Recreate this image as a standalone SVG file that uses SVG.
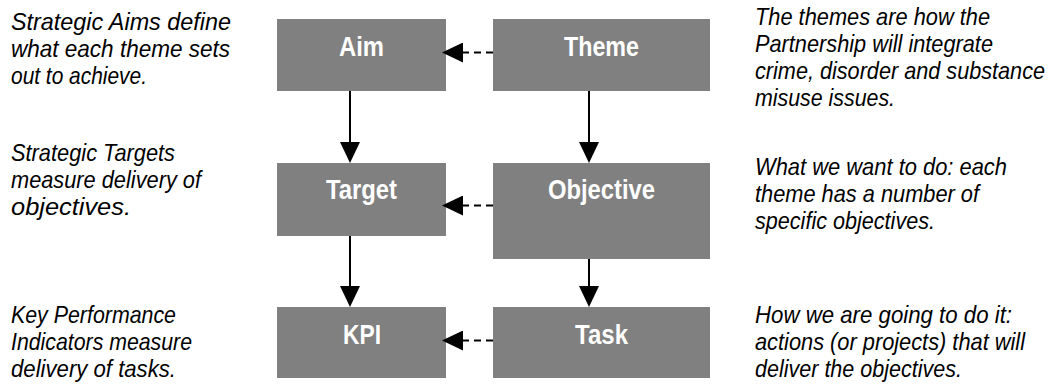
<svg xmlns="http://www.w3.org/2000/svg" width="1056" height="385" viewBox="0 0 1056 385">
  <style>
    .box { fill: #808080; }
    .label { font-family: "Liberation Sans", Arial, sans-serif; font-size: 28px; font-weight: bold; fill: #ffffff; text-anchor: middle; }
    .note { font-family: "Liberation Sans", Arial, sans-serif; font-size: 24px; font-style: italic; fill: #000000; }
    .solid { fill: none; stroke: #000000; stroke-width: 2; }
    .dashed { fill: none; stroke: #000000; stroke-width: 2; stroke-dasharray: 7 5; }
  </style>
  <defs>
    <marker id="arrow" viewBox="0 0 21 20" markerWidth="21" markerHeight="20" refX="0" refY="10" orient="auto" markerUnits="userSpaceOnUse">
      <path d="M0,0 L21,10 L0,20 Z" fill="#000000"/>
    </marker>
  </defs>
  <rect width="1056" height="385" fill="#ffffff"/>

  <g id="node-aim">
    <rect class="box" x="277" y="19" width="169" height="72"/>
    <text class="label" x="361.5" y="55.5" textLength="45" lengthAdjust="spacingAndGlyphs">Aim</text>
  </g>
  <g id="node-theme">
    <rect class="box" x="493" y="19" width="217" height="72"/>
    <text class="label" x="601.5" y="55.5" textLength="75" lengthAdjust="spacingAndGlyphs">Theme</text>
  </g>
  <g id="node-target">
    <rect class="box" x="277" y="163" width="169" height="73"/>
    <text class="label" x="361.5" y="199" textLength="71" lengthAdjust="spacingAndGlyphs">Target</text>
  </g>
  <g id="node-objective">
    <rect class="box" x="493" y="163" width="217" height="96"/>
    <text class="label" x="601.5" y="199" textLength="107" lengthAdjust="spacingAndGlyphs">Objective</text>
  </g>
  <g id="node-kpi">
    <rect class="box" x="277" y="307" width="169" height="71"/>
    <text class="label" x="362" y="344" textLength="38" lengthAdjust="spacingAndGlyphs">KPI</text>
  </g>
  <g id="node-task">
    <rect class="box" x="493" y="307" width="217" height="71"/>
    <text class="label" x="601.5" y="344" textLength="53" lengthAdjust="spacingAndGlyphs">Task</text>
  </g>

  <g id="connectors">
    <path class="solid" d="M350,91 V142" marker-end="url(#arrow)"/>
    <path class="solid" d="M589,91 V142" marker-end="url(#arrow)"/>
    <path class="solid" d="M350,236 V286" marker-end="url(#arrow)"/>
    <path class="solid" d="M589,259 V286" marker-end="url(#arrow)"/>
    <path class="dashed" d="M493,52.5 H463" marker-end="url(#arrow)"/>
    <path class="dashed" d="M493,205.5 H463" marker-end="url(#arrow)"/>
    <path class="dashed" d="M493,340.5 H463" marker-end="url(#arrow)"/>
  </g>

  <g id="notes-left">
    <text class="note" x="11" y="30" textLength="220" lengthAdjust="spacingAndGlyphs">Strategic Aims define</text>
    <text class="note" x="11" y="57" textLength="219" lengthAdjust="spacingAndGlyphs">what each theme sets</text>
    <text class="note" x="11" y="84" textLength="136" lengthAdjust="spacingAndGlyphs">out to achieve.</text>

    <text class="note" x="11" y="161" textLength="164" lengthAdjust="spacingAndGlyphs">Strategic Targets</text>
    <text class="note" x="11" y="188" textLength="190" lengthAdjust="spacingAndGlyphs">measure delivery of</text>
    <text class="note" x="11" y="215" textLength="120" lengthAdjust="spacingAndGlyphs">objectives.</text>

    <text class="note" x="11" y="323" textLength="165" lengthAdjust="spacingAndGlyphs">Key Performance</text>
    <text class="note" x="11" y="350" textLength="181" lengthAdjust="spacingAndGlyphs">Indicators measure</text>
    <text class="note" x="11" y="377" textLength="165" lengthAdjust="spacingAndGlyphs">delivery of tasks.</text>
  </g>

  <g id="notes-right">
    <text class="note" x="755" y="25" textLength="235" lengthAdjust="spacingAndGlyphs">The themes are how the</text>
    <text class="note" x="755" y="52" textLength="238" lengthAdjust="spacingAndGlyphs">Partnership will integrate</text>
    <text class="note" x="755" y="79" textLength="290" lengthAdjust="spacingAndGlyphs">crime, disorder and substance</text>
    <text class="note" x="755" y="106" textLength="140" lengthAdjust="spacingAndGlyphs">misuse issues.</text>

    <text class="note" x="755" y="175" textLength="252" lengthAdjust="spacingAndGlyphs">What we want to do: each</text>
    <text class="note" x="755" y="202" textLength="224" lengthAdjust="spacingAndGlyphs">theme has a number of</text>
    <text class="note" x="755" y="229" textLength="180" lengthAdjust="spacingAndGlyphs">specific objectives.</text>

    <text class="note" x="755" y="323" textLength="257" lengthAdjust="spacingAndGlyphs">How we are going to do it:</text>
    <text class="note" x="755" y="350" textLength="270" lengthAdjust="spacingAndGlyphs">actions (or projects) that will</text>
    <text class="note" x="755" y="377" textLength="207" lengthAdjust="spacingAndGlyphs">deliver the objectives.</text>
  </g>
</svg>
